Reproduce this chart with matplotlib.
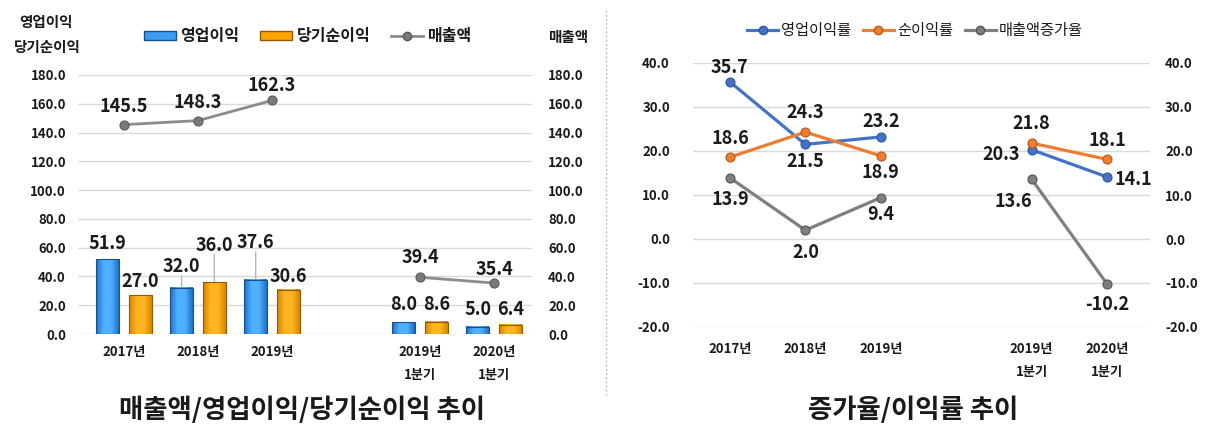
import numpy as np
import matplotlib
matplotlib.use('Agg')
import matplotlib.pyplot as plt
from matplotlib.colors import LinearSegmentedColormap
from matplotlib.lines import Line2D
from matplotlib.patches import Patch

plt.rcParams['font.family'] = ['Noto Sans CJK KR', 'DejaVu Sans']

# ---------------- data ----------------
categories = ['2017년', '2018년', '2019년', '2019년\n1분기', '2020년\n1분기']
x_pos = [0, 1, 2, 4, 5]

op_profit = [51.9, 32.0, 37.6, 8.0, 5.0]
net_profit = [27.0, 36.0, 30.6, 8.6, 6.4]
sales = [145.5, 148.3, 162.3, 39.4, 35.4]

op_margin = [35.7, 21.5, 23.2, 20.3, 14.1]
net_margin = [18.6, 24.3, 18.9, 21.8, 18.1]
sales_growth = [13.9, 2.0, 9.4, 13.6, -10.2]

left_ticks = [0, 20, 40, 60, 80, 100, 120, 140, 160, 180]
right_ticks = [-20, -10, 0, 10, 20, 30, 40]

# ---------------- style ----------------
W, H = 1207, 425
fig = plt.figure(figsize=(W / 100, H / 100), dpi=100)
fig.patch.set_facecolor('white')
PX = 0.72  # points per pixel
TXT = '#1a1a1a'
GRID = '#d9d9d9'
TICK_FS = 9.5


def fax(l, r, top, bottom):
    return fig.add_axes([l / W, (H - bottom) / H, (r - l) / W, (bottom - top) / H])


def style_axis(ax):
    for s in ax.spines.values():
        s.set_visible(False)
    ax.tick_params(length=0)


def gradient_bars(ax, bars, c_edge, c_light, c_line):
    cmap = LinearSegmentedColormap.from_list('g', [c_edge, c_light, c_light, c_edge])
    grad = np.linspace(0, 1, 64).reshape(1, -1)
    for b in bars:
        x0, y0 = b.get_x(), b.get_y()
        w, h = b.get_width(), b.get_height()
        ax.imshow(grad, extent=[x0, x0 + w, y0, y0 + h], cmap=cmap,
                  aspect='auto', origin='lower', zorder=2, interpolation='bilinear')
        b.set_facecolor('none')
        b.set_edgecolor(c_line)
        b.set_linewidth(0.8)
        b.set_zorder(3)


# ================= LEFT PANEL =================
ax1 = fax(78, 532, 75, 334)
style_axis(ax1)
ax1.set_axisbelow(True)
bw = 0.31
off = 0.22
xa = np.array(x_pos, dtype=float)
b1 = ax1.bar(xa - off, op_profit, width=bw, color='#3d9df5')
b2 = ax1.bar(xa + off, net_profit, width=bw, color='#ffa500')
gradient_bars(ax1, b1, '#1f6fc4', '#4fb0ff', '#1b4f8a')
gradient_bars(ax1, b2, '#d98500', '#ffb51f', '#8f5a00')
ax1.set_xlim(-0.62, 5.51)
ax1.set_ylim(0, 180)
ax1.set_yticks(left_ticks)
ax1.set_yticklabels([f'{v:.1f}' for v in left_ticks], fontsize=TICK_FS, fontweight='bold', color=TXT)
ax1.tick_params(axis='y', pad=12 * PX)
ax1.yaxis.grid(True, color=GRID, linewidth=1)
ax1.set_xticks(x_pos)
ax1.set_xticklabels(categories, fontsize=TICK_FS, fontweight='bold', color=TXT, linespacing=1.8)
ax1.tick_params(axis='x', pad=11 * PX)

# bar labels
bar_dy = [[16, 21, 37, 18, 17], [14, 37, 13, 17, 15]]
for series, bars, dys in ((op_profit, b1, bar_dy[0]), (net_profit, b2, bar_dy[1])):
    for v, b, dy in zip(series, bars, dys):
        cx = b.get_x() + b.get_width() / 2
        ax1.annotate(f'{v:.1f}', (cx, v), xytext=(0, dy * PX), textcoords='offset points',
                     ha='center', va='center', fontsize=13, fontweight='bold', color=TXT,
                     zorder=6)
        if dy > 20:
            ax1.annotate('', (cx, v), xytext=(0, (dy - 9) * PX), textcoords='offset points',
                         arrowprops=dict(arrowstyle='-', color='#a6a6a6', lw=0.8,
                                         shrinkA=0, shrinkB=0), zorder=1)

ax2 = ax1.twinx()
style_axis(ax2)
ax2.set_ylim(0, 180)
ax2.set_yticks(left_ticks)
ax2.set_yticklabels([f'{v:.1f}' for v in left_ticks], fontsize=TICK_FS, fontweight='bold', color=TXT)
ax2.tick_params(axis='y', pad=16 * PX)
for seg in (slice(0, 3), slice(3, 5)):
    ax2.plot(xa[seg], sales[seg], color='#8c8c8c', lw=2, marker='o', ms=6.5,
             mfc='#7a7a7a', mec='#5a5a5a', mew=0.8, zorder=5)
sales_dy = [18, 18, 15, 20, 14]
for x, v, dy in zip(xa, sales, sales_dy):
    ax2.annotate(f'{v:.1f}', (x, v), xytext=(0, dy * PX), textcoords='offset points',
                 ha='center', va='center', fontsize=13, fontweight='bold', color=TXT)

# left legend
h_left = [Patch(facecolor='#3d9df5', edgecolor='#1b4f8a'),
          Patch(facecolor='#ffa500', edgecolor='#8f5a00'),
          Line2D([], [], color='#8c8c8c', lw=2, marker='o', ms=6, mfc='#7a7a7a', mec='#5a5a5a')]
fig.legend(h_left, ['영업이익', '당기순이익', '매출액'], loc='center', bbox_to_anchor=(308 / W, 1 - 36 / H),
           ncol=3, frameon=False, prop=dict(size=11.5, weight='bold'), handlelength=2.0,
           handleheight=0.55, handletextpad=0.3, columnspacing=1.3, labelcolor=TXT)
fig.text(46 / W, 1 - 22 / H, '영업이익', ha='center', va='center', fontsize=10.5, fontweight='bold', color=TXT)
fig.text(47 / W, 1 - 47 / H, '당기순이익', ha='center', va='center', fontsize=10.5, fontweight='bold', color=TXT)
fig.text(568 / W, 1 - 37 / H, '매출액', ha='center', va='center', fontsize=10.5, fontweight='bold', color=TXT)
fig.text(302 / W, 1 - 410 / H, '매출액/영업이익/당기순이익 추이', ha='center', va='center',
         fontsize=19, fontweight='bold', color=TXT)

# divider
fig.add_artist(Line2D([606 / W, 606 / W], [1 - 10 / H, 1 - 395 / H], color='#bfbfbf', lw=1,
                      linestyle=(0, (1.5, 1.5))))

# ================= RIGHT PANEL =================
ax3 = fax(693, 1150, 63, 327)
style_axis(ax3)
ax3.set_xlim(-0.49, 5.57)
ax3.set_ylim(-20, 40)
ax3.set_yticks(right_ticks)
ax3.set_yticklabels([f'{v:.1f}' for v in right_ticks], fontsize=TICK_FS, fontweight='bold', color=TXT)
ax3.tick_params(axis='y', pad=23 * PX)
ax3.yaxis.grid(True, color=GRID, linewidth=1)
ax3.set_axisbelow(True)
ax3.set_xticks(x_pos)
ax3.set_xticklabels(categories, fontsize=TICK_FS, fontweight='bold', color=TXT, linespacing=1.8)
ax3.tick_params(axis='x', pad=15 * PX)

ax4 = ax3.twinx()
style_axis(ax4)
ax4.set_ylim(-20, 40)
ax4.set_yticks(right_ticks)
ax4.set_yticklabels([f'{v:.1f}' for v in right_ticks], fontsize=TICK_FS, fontweight='bold', color=TXT)
ax4.tick_params(axis='y', pad=15 * PX)

line_styles = [
    (op_margin, '#4472c4', '#2f55a0', [(0, 14), (0, -17), (0, 15), (-30, -5), (26, -3)]),
    (net_margin, '#ed7d31', '#b85a1a', [(0, 19), (0, 20), (0, -17), (0, 20), (0, 19)]),
    (sales_growth, '#7f7f7f', '#555555', [(0, -22), (0, -22), (0, -17), (-18, -22), (0, -21)]),
]
for vals, col, ecol, offs in line_styles:
    vals = np.array(vals)
    for seg in (slice(0, 3), slice(3, 5)):
        ax3.plot(xa[seg], vals[seg], color=col, lw=2.3, marker='o', ms=6.5,
                 mfc=col, mec=ecol, mew=0.8, zorder=4)
    for x, v, (dx, dy) in zip(xa, vals, offs):
        ax3.annotate(f'{v:.1f}', (x, v), xytext=(dx * PX, dy * PX), textcoords='offset points',
                     ha='center', va='center', fontsize=13, fontweight='bold', color=TXT, zorder=6)

h_right = [Line2D([], [], color=c, lw=2.3, marker='o', ms=6, mfc=c, mec=e)
           for _, c, e, _ in line_styles]
fig.legend(h_right, ['영업이익률', '순이익률', '매출액증가율'], loc='center',
           bbox_to_anchor=(915 / W, 1 - 31 / H), ncol=3, frameon=False,
           prop=dict(size=11), handlelength=2.0, handletextpad=0.2, columnspacing=0.8,
           labelcolor=TXT)
fig.text(913 / W, 1 - 410 / H, '증가율/이익률 추이', ha='center', va='center',
         fontsize=19, fontweight='bold', color=TXT)

fig.savefig('out.png', dpi=100, facecolor='white')
